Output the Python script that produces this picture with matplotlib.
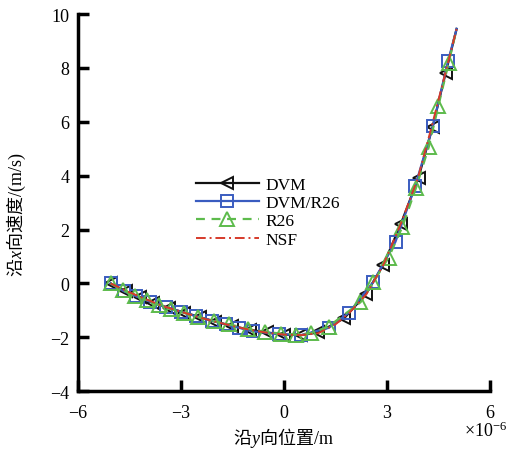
import matplotlib
matplotlib.use("Agg")
import matplotlib.pyplot as plt

plt.rcParams['font.family'] = ['Liberation Serif', 'Noto Sans CJK SC']
plt.rcParams['mathtext.fontset'] = 'custom'
plt.rcParams['mathtext.rm'] = 'Noto Sans CJK SC'
plt.rcParams['mathtext.it'] = 'Liberation Serif:italic'
plt.rcParams['mathtext.sf'] = 'Liberation Serif'
plt.rcParams['axes.unicode_minus'] = True

# Data (x in units of 1e-6 m, velocity in m/s); last point is the line end
dvm_x = [-5.05, -4.6, -4.2, -3.8, -3.35, -2.9, -2.45, -2.0, -1.5, -1.0, -0.5, 0.0, 0.5, 1.0, 1.75, 2.38, 2.9, 3.4, 3.92, 4.33, 4.71, 5.03]
dvm_y = [0.0, -0.3, -0.5, -0.72, -0.92, -1.08, -1.25, -1.42, -1.58, -1.72, -1.82, -1.9, -1.92, -1.82, -1.3, -0.41, 0.7, 2.19, 3.93, 5.81, 7.81, 9.45]

dr_x = [-5.05, -4.65, -4.3, -3.9, -3.45, -3.0, -2.55, -2.1, -1.7, -1.3, -0.9, -0.15, 0.5, 1.3, 1.9, 2.6, 3.25, 3.82, 4.34, 4.78, 5.03]
dr_y = [0.0, -0.3, -0.48, -0.68, -0.88, -1.05, -1.22, -1.38, -1.52, -1.65, -1.78, -1.88, -1.92, -1.65, -1.08, 0.05, 1.55, 3.6, 5.84, 8.25, 9.45]

r26_x = [-5.05, -4.7, -4.35, -4.0, -3.65, -3.3, -2.9, -2.5, -2.05, -1.6, -1.05, -0.55, -0.1, 0.35, 0.8, 1.3, 2.23, 2.6, 3.05, 3.45, 3.85, 4.22, 4.5, 4.8, 5.03]
r26_y = [0.0, -0.25, -0.45, -0.62, -0.8, -0.95, -1.1, -1.25, -1.4, -1.52, -1.68, -1.8, -1.86, -1.9, -1.85, -1.6, -0.7, 0.04, 0.96, 2.1, 3.56, 5.07, 6.6, 8.2, 9.45]

nsf_x = [-5.05, -4.5, -4.0, -3.5, -3.0, -2.5, -2.0, -1.5, -1.0, -0.5, 0.0, 0.5, 1.0, 1.5, 1.9, 2.4, 2.9, 3.4, 3.9, 4.3, 4.7, 5.03]
nsf_y = [0.0, -0.33, -0.6, -0.85, -1.05, -1.25, -1.42, -1.58, -1.72, -1.83, -1.9, -1.92, -1.85, -1.52, -1.1, -0.4, 0.7, 2.2, 3.9, 5.8, 7.8, 9.45]

labels = ['DVM', 'DVM/R26', 'R26', 'NSF']
x_ticks = [-6, -3, 0, 3, 6]
y_ticks = [-4, -2, 0, 2, 4, 6, 8, 10]

fig = plt.figure(figsize=(5.13, 4.56), dpi=100)
ax = fig.add_axes([0.152, 0.140, 0.803, 0.827])

c_black = '#111111'
c_blue = '#3a5cc0'
c_green = '#5dbb4c'
c_red = '#d63a2a'

ax.plot(dvm_x, dvm_y, color=c_black, lw=1.6, marker='<', ms=9, mfc='none',
        mec=c_black, mew=1.4, markevery=list(range(len(dvm_x) - 1)), label=labels[0])
ax.plot(dr_x, dr_y, color=c_blue, lw=1.6, marker='s', ms=8, mfc='none',
        mec=c_blue, mew=1.4, markevery=list(range(len(dr_x) - 1)), label=labels[1])
ax.plot(r26_x, r26_y, color=c_green, lw=1.6, ls=(0, (4, 3)), marker='^', ms=10, mfc='none',
        mec=c_green, mew=1.4, markevery=list(range(len(r26_x) - 1)), label=labels[2])
ax.plot(nsf_x, nsf_y, color=c_red, lw=1.4, ls=(0, (5, 2, 1, 2)), label=labels[3])

ax.set_xlim(-6, 6)
ax.set_ylim(-4, 10)
ax.set_xticks(x_ticks)
ax.set_yticks(y_ticks)
ax.set_xticklabels([f'{v}'.replace('-', '\u2212') for v in x_ticks])
ax.set_yticklabels([f'{v}'.replace('-', '\u2212') for v in y_ticks])

for s in ['top', 'right']:
    ax.spines[s].set_visible(False)
for s in ['left', 'bottom']:
    ax.spines[s].set_linewidth(2.5)
ax.tick_params(direction='in', length=8, width=2.5, labelsize=13)
ax.tick_params(axis='x', pad=9)
ax.tick_params(axis='y', pad=6)

ax.set_xlabel(r'$\mathrm{沿}\mathit{y}\mathrm{向位置}\mathsf{/m}$', fontsize=13)
ax.set_ylabel(r'$\mathrm{沿}\mathit{x}\mathrm{向速度}\mathsf{/(m/s)}$', fontsize=13)
ax.xaxis.set_label_coords(0.5, -0.09)
ax.yaxis.set_label_coords(-0.122, 0.47)

fig.text(0.905, 0.041, r'$\mathsf{\times 10}^{\mathsf{-6}}$', fontsize=13, ha='left', va='baseline')

leg = ax.legend(loc='upper left', bbox_to_anchor=(0.27, 0.587), frameon=False,
                fontsize=12.5, handlelength=3.6, labelspacing=0.12, handletextpad=0.4,
                borderaxespad=0)

fig.savefig('out.png', dpi=100)
